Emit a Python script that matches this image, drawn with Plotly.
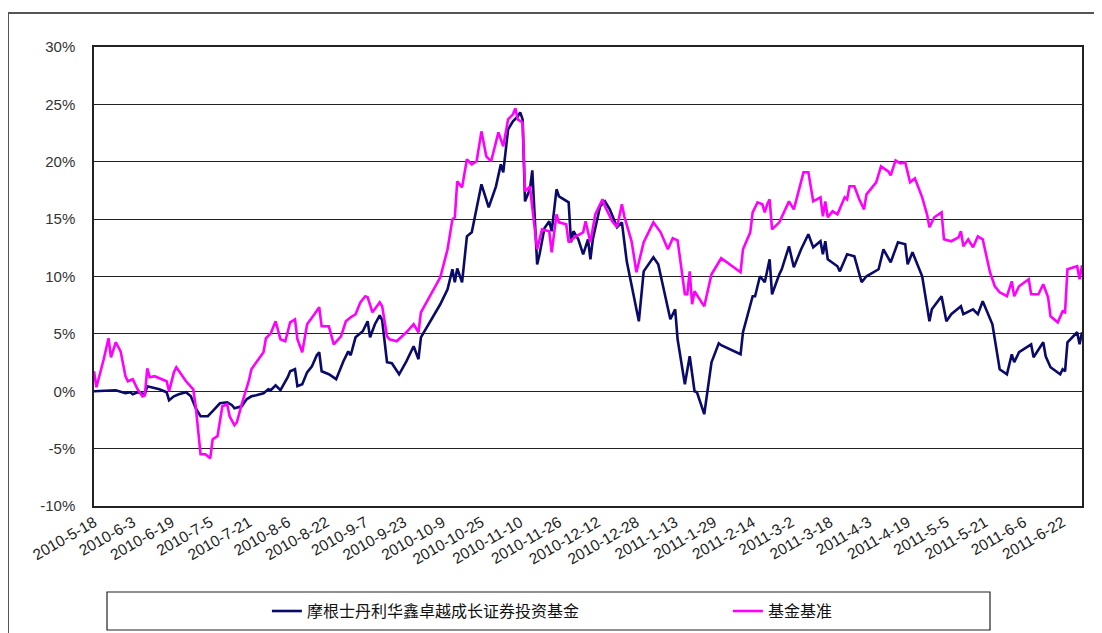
import pandas as pd
import plotly.graph_objects as go

START = "2010-05-18"

# x-axis tick labels (every 16 days)
tick_labels = ["2010-5-18", "2010-6-3", "2010-6-19", "2010-7-5", "2010-7-21", "2010-8-6",
               "2010-8-22", "2010-9-7", "2010-9-23", "2010-10-9", "2010-10-25", "2010-11-10",
               "2010-11-26", "2010-12-12", "2010-12-28", "2011-1-13", "2011-1-29", "2011-2-14",
               "2011-3-2", "2011-3-18", "2011-4-3", "2011-4-19", "2011-5-5", "2011-5-21",
               "2011-6-6", "2011-6-22"]
y_tick_vals = [-10, -5, 0, 5, 10, 15, 20, 25, 30]
y_tick_text = ["-10%", "-5%", "0%", "5%", "10%", "15%", "20%", "25%", "30%"]

fund_name = "摩根士丹利华鑫卓越成长证券投资基金"
bench_name = "基金基准"

# benchmark: days since START, cumulative return (%)
bench_days = [0, 1, 4, 6, 7, 9, 11, 13, 14, 16, 18, 20, 21, 22, 23, 25, 30, 31, 33, 34,
              36, 38, 41, 42, 44, 46, 48, 49, 51, 53, 55, 56, 58, 59, 61, 63, 64, 65, 67, 70,
              71, 73, 75, 77, 79, 81, 83, 84, 86, 88, 91, 93, 94, 97, 99, 102, 104, 106, 108, 110,
              112, 113, 115, 117, 118, 119, 121, 122, 125, 129, 132, 134, 135, 143, 146, 148, 149, 150, 152, 154,
              156, 158, 160, 162, 164, 167, 169, 171, 173, 174, 175, 177, 178, 180, 183, 185, 188, 189, 191, 192,
              195, 196, 199, 202, 203, 205, 207, 210, 211, 214, 216, 218, 219, 222, 224, 227, 231, 234, 237, 239,
              241, 244, 245, 246, 247, 248, 252, 255, 259, 267, 268, 271, 272, 274, 276, 277, 278, 279, 280, 283,
              287, 289, 293, 295, 297, 300, 301, 302, 303, 305, 307, 310, 311, 312, 314, 316, 318, 319, 323, 325,
              328, 329, 331, 333, 335, 337, 339, 342, 344, 345, 347, 350, 351, 354, 357, 358, 359, 361, 363, 365,
              367, 370, 372, 374, 377, 379, 380, 382, 386, 387, 390, 392, 394, 395, 398, 400, 401, 402, 406, 407,
              408]
bench_vals = [1.74, 0.35, 2.79, 4.62, 2.96, 4.27, 3.48, 1.31, 0.87, 1.05, 0.17, -0.44, -0.35, 2.00, 1.22, 1.31, 0.87, 0.00, 1.65, 2.09,
              1.48, 0.87, 0.17, -1.31, -5.49, -5.49, -5.84, -4.18, -3.92, -1.31, -1.13, -2.18, -2.96, -2.70, -1.13, 0.17, 0.96, 1.92, 2.53, 3.40,
              4.62, 5.05, 6.10, 4.53, 4.36, 6.01, 6.27, 4.53, 3.40, 5.84, 6.71, 7.32, 5.66, 5.66, 4.09, 4.79, 6.10, 6.45, 6.71, 7.75,
              8.28, 8.19, 6.88, 7.40, 7.75, 7.40, 4.79, 4.53, 4.36, 5.14, 5.84, 5.14, 6.88, 9.93, 12.37, 14.98, 15.16, 18.29, 17.77, 20.21,
              19.77, 20.04, 22.65, 20.47, 20.04, 22.56, 21.34, 23.69, 24.13, 24.65, 23.69, 23.43, 17.42, 17.86, 12.37, 14.11, 13.94, 12.11, 15.42, 14.72,
              14.55, 12.98, 13.50, 13.85, 14.81, 12.98, 15.42, 16.73, 16.12, 14.81, 14.29, 16.29, 15.24, 13.07, 10.37, 12.98, 14.72, 13.85, 12.37, 13.33,
              13.15, 8.45, 8.45, 10.45, 7.58, 8.71, 7.40, 10.19, 11.59, 10.37, 12.37, 13.85, 15.59, 16.46, 16.29, 15.59, 16.29, 16.73, 14.11, 14.72,
              16.55, 15.85, 19.08, 19.08, 16.55, 16.90, 15.24, 16.55, 15.16, 15.68, 15.42, 16.90, 16.73, 17.86, 17.86, 16.73, 15.85, 17.16, 18.21, 19.60,
              19.16, 18.82, 20.12, 19.86, 19.95, 18.21, 18.55, 16.90, 15.42, 14.29, 15.16, 15.59, 13.24, 13.07, 13.41, 13.94, 12.63, 13.24, 12.54, 13.50,
              13.24, 10.37, 9.15, 8.62, 8.28, 9.58, 8.28, 9.15, 9.76, 8.45, 8.45, 9.32, 8.19, 6.53, 6.01, 6.97, 6.88, 10.63, 10.89, 9.76,
              10.98]

# fund: days since START, cumulative return (%)
fund_days = [0, 9, 13, 15, 16, 18, 21, 22, 27, 30, 31, 33, 35, 38, 40, 42, 44, 47, 49, 52,
             55, 57, 58, 61, 63, 65, 67, 70, 72, 73, 75, 77, 80, 81, 83, 84, 86, 88, 90, 92,
             93, 94, 97, 100, 103, 105, 106, 108, 111, 113, 114, 116, 118, 119, 121, 123, 126, 129, 132, 133,
             134, 135, 143, 146, 148, 149, 150, 152, 154, 156, 157, 160, 163, 166, 168, 169, 171, 173, 175, 176,
             177, 178, 180, 181, 183, 184, 186, 188, 189, 191, 192, 196, 197, 198, 200, 202, 204, 205, 206, 209,
             211, 213, 216, 218, 220, 222, 225, 227, 229, 231, 233, 236, 238, 240, 241, 244, 246, 248, 249, 252,
             255, 258, 259, 267, 268, 272, 273, 275, 277, 279, 280, 283, 284, 287, 289, 292, 295, 297, 300, 301,
             302, 303, 307, 308, 311, 314, 317, 319, 324, 326, 329, 332, 335, 336, 338, 342, 345, 346, 350, 352,
             354, 358, 359, 363, 365, 367, 371, 374, 377, 379, 380, 382, 387, 388, 392, 393, 395, 399, 400, 401,
             402, 406, 407, 408]
fund_vals = [0.00, 0.09, -0.17, -0.09, -0.26, -0.09, -0.26, 0.44, 0.17, -0.09, -0.78, -0.44, -0.26, -0.09, -0.44, -1.48, -2.18, -2.18, -1.74, -1.05,
             -0.96, -1.22, -1.48, -1.31, -0.70, -0.44, -0.35, -0.17, 0.17, 0.09, 0.52, 0.09, 1.22, 1.74, 1.92, 0.44, 0.61, 1.65, 2.18, 3.14,
             3.40, 1.74, 1.48, 1.05, 2.61, 3.48, 3.14, 4.70, 5.23, 6.10, 4.70, 5.84, 6.62, 6.18, 2.53, 2.44, 1.48, 2.61, 3.92, 3.40,
             2.79, 4.70, 7.58, 8.88, 10.63, 9.50, 10.71, 9.50, 13.50, 13.85, 14.98, 18.03, 16.03, 17.86, 19.77, 19.08, 22.82, 23.52, 23.95, 24.30,
             23.69, 16.55, 17.60, 19.25, 11.06, 11.93, 14.20, 14.81, 13.94, 17.60, 16.99, 16.46, 12.98, 13.94, 13.24, 11.93, 13.24, 11.50, 13.24, 16.12,
             16.55, 15.85, 14.29, 14.72, 11.32, 9.15, 6.10, 10.45, 11.06, 11.67, 11.06, 8.28, 6.27, 7.14, 4.53, 0.61, 3.05, 0.00, -0.09, -2.00,
             2.53, 4.18, 4.01, 3.22, 5.14, 8.28, 8.28, 10.02, 9.50, 11.50, 8.45, 10.19, 10.63, 12.63, 10.80, 12.37, 13.68, 12.54, 13.07, 11.93,
             13.07, 11.50, 10.89, 10.45, 11.93, 11.76, 9.50, 10.02, 10.63, 12.37, 11.24, 12.98, 12.80, 11.06, 12.11, 10.02, 6.10, 7.14, 8.28, 6.10,
             6.71, 7.40, 6.71, 7.14, 6.71, 7.84, 5.84, 1.92, 1.48, 3.22, 2.53, 3.40, 4.09, 2.96, 4.27, 3.05, 2.09, 1.48, 1.92, 1.74,
             4.27, 5.14, 4.09, 5.14]

start = pd.Timestamp(START)
bench_dates = start + pd.to_timedelta(bench_days, unit="D")
fund_dates = start + pd.to_timedelta(fund_days, unit="D")
tick_dates = [pd.Timestamp(t) for t in tick_labels]

fig = go.Figure()
fig.add_trace(go.Scatter(x=fund_dates, y=fund_vals, mode="lines", name=fund_name,
                         line=dict(color="#0a0a6b", width=2.6)))
fig.add_trace(go.Scatter(x=bench_dates, y=bench_vals, mode="lines", name=bench_name,
                         line=dict(color="#ff00ff", width=2.6)))

# the page body adds an 8px offset, so the figure is 8px smaller and margins shifted
fig.update_layout(
    width=1094, height=625,
    margin=dict(l=86, r=20, t=39, b=127, autoexpand=False),
    paper_bgcolor="white", plot_bgcolor="white",
    font=dict(family="Arial, Liberation Sans, sans-serif", color="#222"),
    showlegend=True,
    legend=dict(orientation="h", x=0.175, y=-0.229, xanchor="left", yanchor="middle",
                bgcolor="rgba(0,0,0,0)", borderwidth=0, itemwidth=30,
                entrywidth=416, entrywidthmode="pixels",
                font=dict(family="Noto Sans CJK SC", size=16, color="#111")),
    xaxis=dict(type="date", range=[start, start + pd.Timedelta(days=408)],
               tickvals=tick_dates, ticktext=tick_labels, tickangle=-30,
               tickfont=dict(size=15.5, color="#222"), showgrid=False,
               showline=True, linecolor="#222", linewidth=1.5, mirror=True,
               ticks="", zeroline=False, automargin=False),
    yaxis=dict(range=[-10, 30], tickvals=y_tick_vals, ticktext=y_tick_text,
               tickfont=dict(size=15, color="#333"), showgrid=True, gridcolor="#222",
               gridwidth=1, showline=True, linecolor="#222", linewidth=1.5, mirror=True,
               ticks="", ticklabelstandoff=14, zeroline=False, automargin=False),
)

# legend frame
fig.add_shape(type="rect", xref="paper", yref="paper",
              x0=(107 - 94) / 988, x1=(990 - 94) / 988,
              y0=(506 - 630) / 459, y1=(506 - 592) / 459,
              line=dict(color="#222", width=1.2), fillcolor="rgba(0,0,0,0)")
# outer chart frame
fig.add_shape(type="rect", xref="paper", yref="paper",
              x0=(8 - 94) / 988, x1=(1110 - 94) / 988,
              y0=(506 - 640) / 459, y1=(506 - 13) / 459,
              line=dict(color="#555", width=2), fillcolor="rgba(0,0,0,0)")

fig.write_html("out.html")
